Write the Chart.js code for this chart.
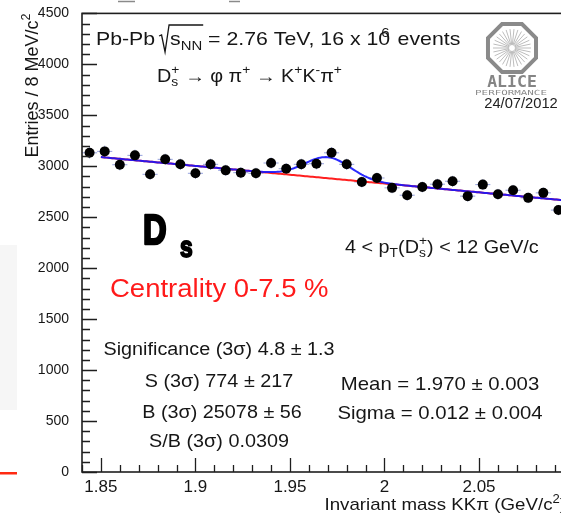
<!DOCTYPE html>
<html lang="en">
<head>
<meta charset="UTF-8">
<title>Ds+ invariant mass, Pb-Pb 0-7.5%</title>
<script src="https://cdn.jsdelivr.net/npm/chart.js"></script>
<style>
  html, body { margin: 0; padding: 0; background: #fff; overflow: hidden; }
  #wrap { position: relative; width: 561px; height: 513px; overflow: hidden; }
  #wrap canvas { position: absolute; left: 0; top: 0; }
</style>
</head>
<body>
<div id="wrap"><canvas id="massPlot" width="580" height="513"></canvas></div>
<script>
// KKpi invariant mass histogram, 8 MeV bins
const massBins = [1.844, 1.852, 1.860, 1.868, 1.876, 1.884, 1.892, 1.900, 1.908, 1.916,
  1.924, 1.932, 1.940, 1.948, 1.956, 1.964, 1.972, 1.980, 1.988, 1.996,
  2.004, 2.012, 2.020, 2.028, 2.036, 2.044, 2.052, 2.060, 2.068, 2.076, 2.084, 2.092];
const entries = [3132, 3146, 3015, 3107, 2921, 3068, 3019, 2931, 3019, 2960,
  2937, 2931, 3032, 2976, 3019, 3025, 3132, 3019, 2846, 2885,
  2788, 2716, 2797, 2824, 2853, 2707, 2820, 2726, 2765, 2690, 2739, 2570];
const binWidth = 0.008;

const xMajorTicks = [1.85, 1.9, 1.95, 2, 2.05];
const yMajorTicks = [0, 500, 1000, 1500, 2000, 2500, 3000, 3500, 4000, 4500];

// fit: gaussian signal on a linear background
const fitMean = 1.970;
const fitSigma = 0.012;
const fitSignal3s = 774;
const bgRef = 1.85, bgLevel = 3090, bgSlope = -1730;
const fitRange = [1.85, 2.096];

const gaussAmp = fitSignal3s * binWidth / (0.9973 * fitSigma * Math.sqrt(2 * Math.PI));
const bgFunc = m => bgLevel + bgSlope * (m - bgRef);
const totalFunc = m => bgFunc(m) + gaussAmp * Math.exp(-0.5 * ((m - fitMean) / fitSigma) ** 2);

const bgCurve = [], totalCurve = [];
for (let m = fitRange[0]; m <= fitRange[1] + 1e-9; m += 0.001) {
  bgCurve.push({ x: m, y: bgFunc(m) });
  totalCurve.push({ x: m, y: totalFunc(m) });
}

const FONT = '"Liberation Sans", Arial, sans-serif';

// text with sub/superscripts; runs are strings or {sup, sub, dx, kern}
function runAdvance(ctx, r, size, weight, family) {
  if (typeof r === 'string') {
    ctx.font = `${weight} ${size}px ${family}`;
    return ctx.measureText(r).width;
  }
  ctx.font = `${weight} ${size * 0.7}px ${family}`;
  let w = 0;
  if (r.sup) w = Math.max(w, ctx.measureText(r.sup).width);
  if (r.sub) w = Math.max(w, ctx.measureText(r.sub).width);
  return w + (r.kern || 0);
}

function drawRuns(ctx, runs, x, y, size, o = {}) {
  const sx = o.sx || 1, weight = o.weight || 'normal', family = o.family || FONT;
  let total = 0;
  runs.forEach(r => { total += runAdvance(ctx, r, size, weight, family); });
  total *= sx;
  let cx = o.align === 'center' ? x - total / 2 : o.align === 'right' ? x - total : x;
  ctx.fillStyle = o.color || '#161616';
  ctx.strokeStyle = o.color || '#161616';
  ctx.textAlign = 'left';
  ctx.textBaseline = 'alphabetic';
  runs.forEach(r => {
    const adv = runAdvance(ctx, r, size, weight, family);
    ctx.save();
    ctx.translate(cx + ((r.dx || 0) * sx), y);
    ctx.scale(sx, 1);
    if (typeof r === 'string') {
      ctx.font = `${weight} ${size}px ${family}`;
      ctx.fillText(r, 0, 0);
      if (o.stroke) { ctx.lineWidth = o.stroke; ctx.lineJoin = 'round'; ctx.strokeText(r, 0, 0); }
    } else {
      ctx.font = `${weight} ${size * 0.7}px ${family}`;
      if (r.sup) ctx.fillText(r.sup, 0, -size * 0.42);
      if (r.sub) ctx.fillText(r.sub, 0, size * 0.24);
    }
    ctx.restore();
    cx += adv * sx;
  });
  return cx;
}

function drawAliceLogo(ctx, cx, cy, R) {
  ctx.save();
  ctx.strokeStyle = '#bdbdbd';
  ctx.lineWidth = 1;
  for (let k = 0; k < 30; k++) {
    const a = k * 2 * Math.PI / 30;
    ctx.beginPath();
    ctx.moveTo(cx + 3 * Math.cos(a), cy + 3 * Math.sin(a));
    ctx.lineTo(cx + (R - 7) * Math.cos(a), cy + (R - 7) * Math.sin(a));
    ctx.stroke();
  }
  ctx.strokeStyle = '#8a8a8a';
  ctx.lineWidth = 4;
  ctx.beginPath();
  for (let k = 0; k < 8; k++) {
    const a = Math.PI / 8 + k * Math.PI / 4;
    const px = cx + R * Math.cos(a), py = cy + R * Math.sin(a);
    if (k === 0) ctx.moveTo(px, py); else ctx.lineTo(px, py);
  }
  ctx.closePath();
  ctx.stroke();
  ctx.restore();

  drawRuns(ctx, ['ALICE'], cx, cy + 39, 15, { align: 'center', sx: 1.1, weight: 'bold', family: '"DejaVu Sans Mono", monospace', color: '#858585' });
  drawRuns(ctx, ['PERFORMANCE'], cx - 1, cy + 46.5, 7, { align: 'center', sx: 1.55, family: '"DejaVu Sans Mono", monospace', color: '#8c8c8c' });
  drawRuns(ctx, ['24/07/2012'], cx + 9, cy + 60, 14, { align: 'center', sx: 1.05, color: '#222' });
}

const histDecor = {
  id: 'histDecor',
  beforeDraw(chart) {
    const ctx = chart.ctx;
    ctx.save();
    ctx.fillStyle = '#f6f6f6';
    ctx.fillRect(0, 245, 17, 165);
    ctx.fillStyle = '#ff2a12';
    ctx.fillRect(0, 472, 17, 2.5);
    ctx.strokeStyle = '#8a8a8a';
    ctx.lineWidth = 1.5;
    ctx.beginPath();
    ctx.moveTo(118, 1.5); ctx.lineTo(135, 1.5);
    ctx.moveTo(229, 1.5); ctx.lineTo(240, 1.5);
    ctx.stroke();
    ctx.restore();
  },
  beforeDatasetsDraw(chart) {
    // bin-width and sqrt(N) error bars
    const { ctx, scales: { x, y } } = chart;
    ctx.save();
    ctx.strokeStyle = 'rgba(80,100,200,0.6)';
    ctx.lineWidth = 1;
    massBins.forEach((m, i) => {
      const n = entries[i], e = Math.sqrt(n);
      const px = x.getPixelForValue(m), py = y.getPixelForValue(n);
      ctx.beginPath();
      ctx.moveTo(x.getPixelForValue(m - binWidth / 2), py);
      ctx.lineTo(x.getPixelForValue(m + binWidth / 2), py);
      ctx.moveTo(px, y.getPixelForValue(n - e));
      ctx.lineTo(px, y.getPixelForValue(n + e));
      ctx.stroke();
    });
    ctx.restore();
  },
  afterDraw(chart) {
    const { ctx, chartArea: a, scales: { x, y } } = chart;
    ctx.save();

    // frame
    ctx.strokeStyle = '#1e1e1e';
    ctx.lineWidth = 1.6;
    ctx.strokeRect(a.left, a.top, a.right - a.left, a.bottom - a.top);

    // inward ticks, 4 minor divisions
    ctx.lineWidth = 1.3;
    ctx.beginPath();
    for (let v = 0; v <= 4500; v += 100) {
      const py = Math.round(y.getPixelForValue(v)) + 0.5;
      const len = v % 500 === 0 ? 15 : 8;
      ctx.moveTo(a.left, py); ctx.lineTo(a.left + len, py);
    }
    for (let k = 184; k <= 209; k++) {
      const px = Math.round(x.getPixelForValue(k / 100)) + 0.5;
      const len = k % 5 === 0 ? 14 : 7;
      ctx.moveTo(px, a.bottom); ctx.lineTo(px, a.bottom - len);
    }
    ctx.stroke();
    ctx.restore();

    // axis titles
    ctx.save();
    ctx.translate(38, a.top);
    ctx.rotate(-Math.PI / 2);
    drawRuns(ctx, ['Entries / 8 MeV/c', { sup: '2' }], 0, 0, 18, { align: 'right', sx: 1.0 });
    ctx.restore();
    drawRuns(ctx, ['Invariant mass KK\u03c0 (GeV/c', { sup: '2' }, ')'], a.right, 510, 17, { align: 'right', sx: 1.1 });

    // collision system line with a drawn radical
    const sz = 19, sx = 1.12, base = 45;
    let cx = drawRuns(ctx, ['Pb-Pb '], 96, base, sz, { sx });
    const r0 = cx - 2;
    const sStart = r0 + 11;
    const sEnd = drawRuns(ctx, ['s', { sub: 'NN' }], sStart, base, sz, { sx });
    ctx.save();
    ctx.strokeStyle = '#161616';
    ctx.lineWidth = 1.3;
    ctx.beginPath();
    ctx.moveTo(r0, base - 9);
    ctx.lineTo(r0 + 2.5, base - 10);
    ctx.lineTo(r0 + 6, base + 7);
    ctx.lineTo(r0 + 10, base - 20);
    ctx.lineTo(sEnd + 1, base - 20);
    ctx.stroke();
    ctx.restore();
    drawRuns(ctx, [' = 2.76 TeV, 16 x 10', { sup: '6', dx: -8, kern: -6 }, ' events'], sEnd, base, sz, { sx });

    // decay channel
    drawRuns(ctx, ['D', { sup: '+', sub: 's' }, ' \u2192 \u03c6 \u03c0', { sup: '+' }, ' \u2192 K', { sup: '+' },
      'K', { sup: '-' }, '\u03c0', { sup: '+' }], 157, 82, 18, { sx: 1.1 });

    drawAliceLogo(ctx, 512, 48, 26);

    // big D_s label
    drawRuns(ctx, ['D'], 143, 244, 43, { sx: 0.76, weight: 'bold', color: '#000', stroke: 2.6 });
    drawRuns(ctx, ['s'], 180, 256.5, 30, { sx: 0.76, weight: 'bold', color: '#000', stroke: 2 });

    drawRuns(ctx, ['4 < p', { sub: 'T' }, '(D', { sup: '+', sub: 's' }, ') < 12 GeV/c'], 345, 253, 18, { sx: 1.1 });

    drawRuns(ctx, ['Centrality 0-7.5 %'], 110, 297, 25, { sx: 1.1, color: '#ff1a1a' });

    // fit statistics
    const statX = 219;
    drawRuns(ctx, ['Significance (3\u03c3) 4.8 \u00b1 1.3'], statX, 355, 18, { sx: 1.1, align: 'center' });
    drawRuns(ctx, ['S (3\u03c3) 774 \u00b1 217'], statX, 387, 18, { sx: 1.1, align: 'center' });
    drawRuns(ctx, ['B (3\u03c3) 25078 \u00b1 56'], statX + 3, 418, 18, { sx: 1.1, align: 'center' });
    drawRuns(ctx, ['S/B (3\u03c3) 0.0309'], statX, 447, 18, { sx: 1.1, align: 'center' });

    drawRuns(ctx, ['Mean = 1.970 \u00b1 0.003'], 440, 390, 18.5, { sx: 1.1, align: 'center' });
    drawRuns(ctx, ['Sigma = 0.012 \u00b1 0.004'], 440, 419, 18.5, { sx: 1.1, align: 'center' });
  }
};

new Chart(document.getElementById('massPlot'), {
  type: 'scatter',
  data: {
    datasets: [
      {
        label: 'data',
        data: massBins.map((m, i) => ({ x: m, y: entries[i] })),
        pointRadius: 5,
        pointBackgroundColor: '#000',
        pointBorderColor: '#000',
        pointBorderWidth: 0,
        showLine: false,
        order: 0
      },
      {
        label: 'signal + background',
        data: totalCurve,
        showLine: true,
        borderColor: 'rgba(20,20,255,0.9)',
        borderWidth: 2,
        pointRadius: 0,
        order: 1
      },
      {
        label: 'background',
        data: bgCurve,
        showLine: true,
        borderColor: '#ff1f1f',
        borderWidth: 2,
        pointRadius: 0,
        order: 2
      }
    ]
  },
  options: {
    responsive: false,
    animation: false,
    events: [],
    layout: { padding: { top: 10, right: 14, left: 0, bottom: 0 } },
    plugins: { legend: { display: false }, tooltip: { enabled: false } },
    scales: {
      x: {
        type: 'linear',
        min: 1.84,
        max: 2.096,
        grid: { display: false },
        border: { display: false },
        afterBuildTicks: s => { s.ticks = xMajorTicks.map(v => ({ value: v })); },
        afterFit: s => { s.height = 41; },
        ticks: {
          padding: -3,
          color: '#161616',
          maxRotation: 0,
          autoSkip: false,
          font: { family: 'Liberation Sans', size: 17 },
          callback: v => String(v)
        }
      },
      y: {
        min: 0,
        max: 4500,
        grid: { display: false },
        border: { display: false },
        afterBuildTicks: s => { s.ticks = yMajorTicks.map(v => ({ value: v })); },
        afterFit: s => { s.width = 82; },
        ticks: {
          padding: 5,
          color: '#161616',
          font: { family: 'Liberation Sans', size: 14 },
          callback: v => String(v)
        }
      }
    }
  },
  plugins: [histDecor]
});
</script>
</body>
</html>
